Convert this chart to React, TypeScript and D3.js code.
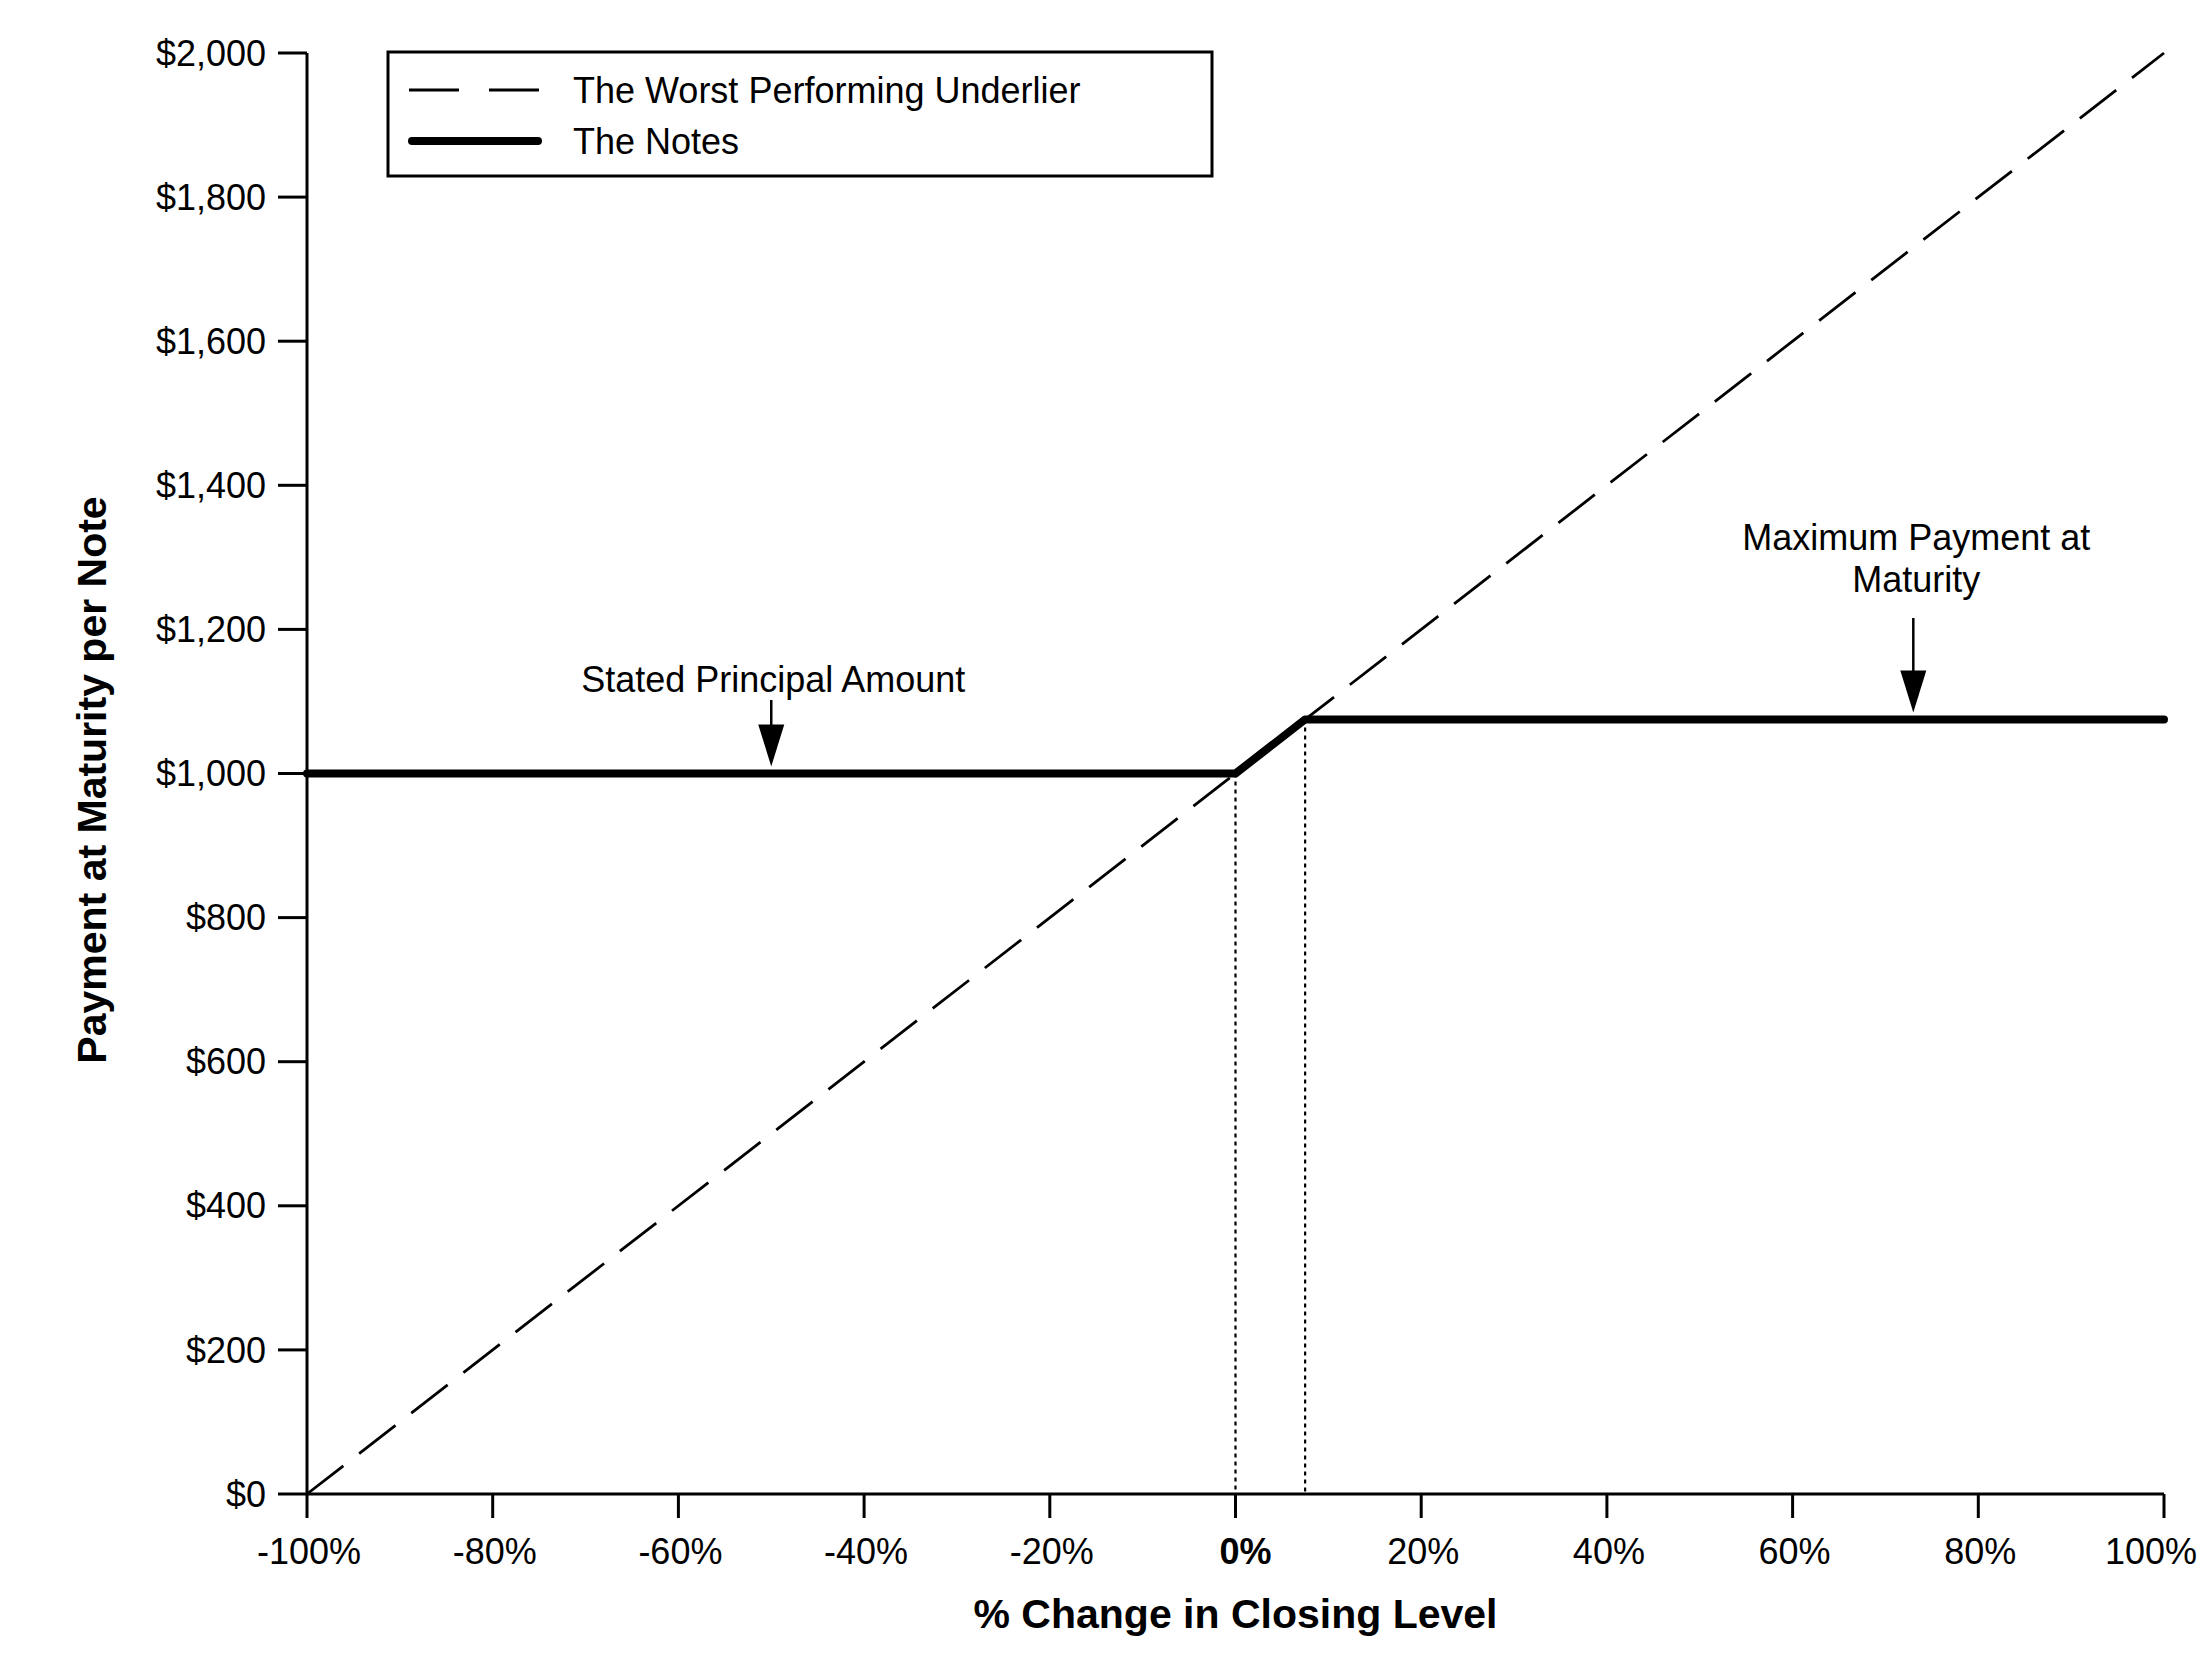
import React from "react";
import * as d3 from "d3";

const xTicks = [-100, -80, -60, -40, -20, 0, 20, 40, 60, 80, 100];
const yTicks = [0, 200, 400, 600, 800, 1000, 1200, 1400, 1600, 1800, 2000];
const underlierX = [-100, 100];
const underlierY = [0, 2000];
const notesX = [-100, 0, 7.5, 100];
const notesY = [1000, 1000, 1075, 1075];
const guideX = [0, 7.5];
const principalArrowX = -50;
const maxArrowX = 73;
const legendLabels = ["The Worst Performing Underlier", "The Notes"];

const W = 2204;
const H = 1664;
const FONT = "'Liberation Sans', Arial, Helvetica, sans-serif";

export default function App() {
  const x = d3.scaleLinear().domain([-100, 100]).range([307, 2164]);
  const y = d3.scaleLinear().domain([0, 2000]).range([1494, 53]);
  const line = d3
    .line<[number, number]>()
    .x((d) => x(d[0]))
    .y((d) => y(d[1]));
  const underlier = underlierX.map((v, i) => [v, underlierY[i]] as [number, number]);
  const notes = notesX.map((v, i) => [v, notesY[i]] as [number, number]);
  const notesAt = (v: number) => notesY[notesX.indexOf(v)];
  const fmtY = d3.format("$,");

  const arrow = (cx: number, y0: number, y1: number, key: string) => {
    const head = 42;
    const hw = 13;
    return (
      <g key={key}>
        <line x1={cx} x2={cx} y1={y0} y2={y1 - head + 2} stroke="#000" strokeWidth={2.5} />
        <path d={`M${cx - hw},${y1 - head} L${cx + hw},${y1 - head} L${cx},${y1} Z`} fill="#000" />
      </g>
    );
  };

  const xLabelPos = (t: number, i: number) => {
    if (i === xTicks.length - 1) return { x: x(t) + 33, anchor: "end" };
    if (t === 0) return { x: x(t) + 10, anchor: "middle" };
    return { x: x(t) + 2, anchor: "middle" };
  };

  return (
    <div style={{ position: "absolute", left: 0, top: 0 }}>
      <svg width={W} height={H} viewBox={`0 0 ${W} ${H}`} style={{ display: "block", background: "#fff" }} fontFamily={FONT}>
        <rect x={0} y={0} width={W} height={H} fill="#fff" />
        {/* guide dotted lines */}
        {guideX.map((g) => (
          <line key={`g${g}`} x1={x(g)} x2={x(g)} y1={y(notesAt(g))} y2={y(0)} stroke="#000" strokeWidth={2.2} strokeDasharray="4,4" />
        ))}
        {/* underlier dashed */}
        <path d={line(underlier) || ""} fill="none" stroke="#000" strokeWidth={2.8} strokeDasharray="46,20" />
        {/* notes */}
        <path d={line(notes) || ""} fill="none" stroke="#000" strokeWidth={8} strokeLinejoin="round" strokeLinecap="round" />
        {/* axes */}
        <line x1={x(-100)} x2={x(-100)} y1={y(2000)} y2={y(0)} stroke="#000" strokeWidth={3} />
        <line x1={x(-100)} x2={x(100)} y1={y(0)} y2={y(0)} stroke="#000" strokeWidth={3} />
        {yTicks.map((t) => (
          <g key={`y${t}`}>
            <line x1={x(-100) - 29} x2={x(-100)} y1={y(t)} y2={y(t)} stroke="#000" strokeWidth={3} />
            <text x={x(-100) - 41} y={y(t)} dy="0.35em" textAnchor="end" fontSize={36}>
              {fmtY(t)}
            </text>
          </g>
        ))}
        {xTicks.map((t, i) => {
          const p = xLabelPos(t, i);
          return (
            <g key={`x${t}`}>
              <line x1={x(t)} x2={x(t)} y1={y(0)} y2={y(0) + 24} stroke="#000" strokeWidth={3} />
              <text x={p.x} y={1564} textAnchor={p.anchor} fontSize={36} fontWeight={t === 0 ? "bold" : "normal"}>
                {`${t}%`}
              </text>
            </g>
          );
        })}
        {/* axis titles */}
        <text x={x(0)} y={1628} textAnchor="middle" fontSize={41} fontWeight="bold">
          % Change in Closing Level
        </text>
        <text transform={`translate(106,${780}) rotate(-90)`} textAnchor="middle" fontSize={41} fontWeight="bold">
          Payment at Maturity per Note
        </text>
        {/* legend */}
        <rect x={388} y={52} width={824} height={124} fill="#fff" stroke="#000" strokeWidth={3} />
        <line x1={409} x2={541} y1={90} y2={90} stroke="#000" strokeWidth={2.8} strokeDasharray="50,30" />
        <line x1={412} x2={538} y1={141} y2={141} stroke="#000" strokeWidth={8} strokeLinecap="round" />
        <text x={573} y={90} dy="0.35em" fontSize={36}>{legendLabels[0]}</text>
        <text x={573} y={141} dy="0.35em" fontSize={36}>{legendLabels[1]}</text>
        {/* annotations */}
        <text x={x(principalArrowX) + 2} y={692} textAnchor="middle" fontSize={36}>
          Stated Principal Amount
        </text>
        {arrow(x(principalArrowX), 700, y(notesAt(0)) - 7, "a1")}
        <text x={x(maxArrowX) + 3} y={550} textAnchor="middle" fontSize={36}>
          Maximum Payment at
        </text>
        <text x={x(maxArrowX) + 3} y={592} textAnchor="middle" fontSize={36}>
          Maturity
        </text>
        {arrow(x(maxArrowX), 618, y(notesAt(100)) - 7, "a2")}
      </svg>
    </div>
  );
}
